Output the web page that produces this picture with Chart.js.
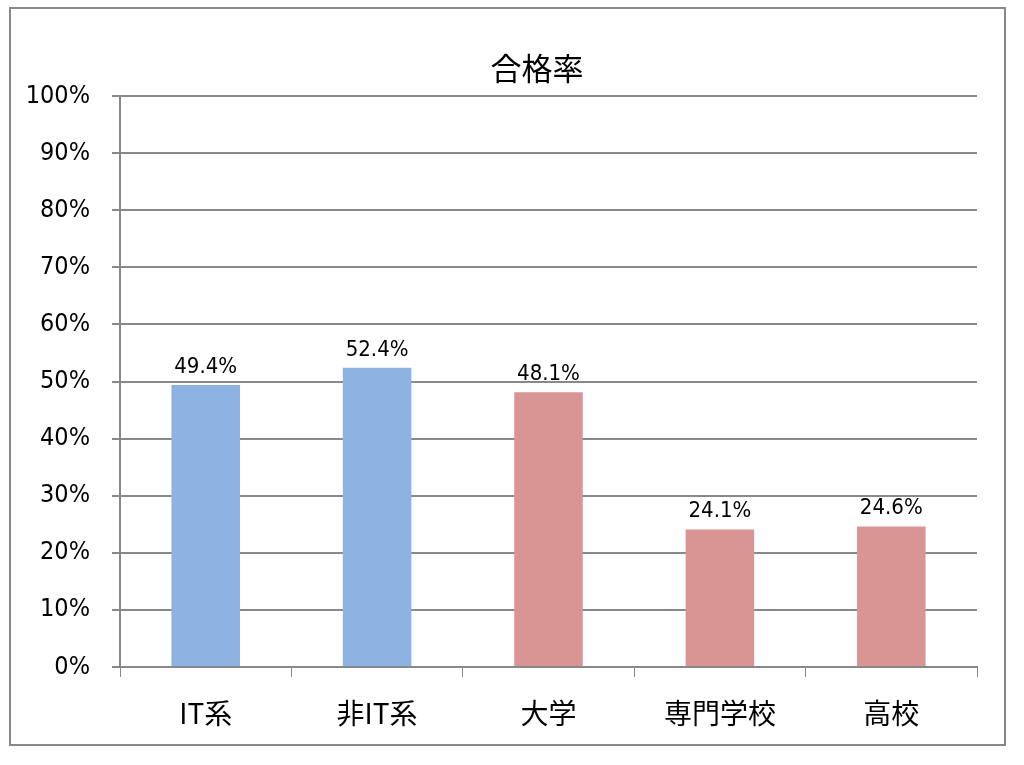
<!DOCTYPE html>
<html><head><meta charset="utf-8">
<script src="https://cdn.jsdelivr.net/npm/chart.js@4"></script>
<style>body{margin:0;background:#fff}#w{width:1024px;height:765px}</style>
</head><body><div id="w"><canvas id="c" width="1024" height="765"></canvas></div>
<script>
const categories=["IT系","非IT系","大学","専門学校","高校"];
const values=[49.4,52.4,48.1,24.1,24.6];
const colors=["#8DB3E2","#8DB3E2","#D99594","#D99594","#D99594"];
const yTicks=[0,10,20,30,40,50,60,70,80,90,100];
const F='"Noto Sans CJK JP","Noto Sans",sans-serif';
const deco={id:'deco',
 beforeDraw(ch){const c=ch.ctx;c.save();c.fillStyle='#fff';c.fillRect(0,0,1024,765);c.restore();},
 afterDraw(ch){const c=ch.ctx;c.save();
  c.strokeStyle='#888';c.lineWidth=2;c.strokeRect(10,8,995,737);
  c.fillStyle='#000';c.font='31px '+F;c.textAlign='center';c.textBaseline='middle';
  c.fillText('合格率',537,68);
  c.font='22px "DejaVu Sans Condensed","DejaVu Sans",sans-serif';c.textBaseline='bottom';
  const m=ch.getDatasetMeta(0);
  m.data.forEach((b,i)=>c.fillText(values[i].toFixed(1)+'%',b.x,b.y-7));
  c.restore();}};
new Chart(document.getElementById('c'),{type:'bar',
 data:{labels:categories,datasets:[{data:values,backgroundColor:colors,barPercentage:0.4,categoryPercentage:1}]},
 options:{responsive:false,animation:false,devicePixelRatio:1,
  layout:{padding:{top:96,right:47,left:10,bottom:0}},
  plugins:{legend:{display:false},tooltip:{enabled:false}},
  scales:{
   x:{grid:{display:true,drawOnChartArea:false,drawTicks:true,tickLength:10,color:'#888',offset:true},
      border:{color:'#888',width:2},
      ticks:{color:'#000',font:{size:28,family:F},padding:20},
      afterFit(s){s.height=98;}},
   y:{min:0,max:100,afterBuildTicks(s){s.ticks=yTicks.map(v=>({value:v}));},
      grid:{color:'#888',lineWidth:2,tickLength:8},
      border:{color:'#888',width:2},
      ticks:{color:'#000',font:{size:25,family:'"DejaVu Sans Condensed","DejaVu Sans",sans-serif'},callback:v=>v+'%',padding:22},
      afterFit(s){s.width=110;}}
  }},plugins:[deco]});
</script></body></html>
